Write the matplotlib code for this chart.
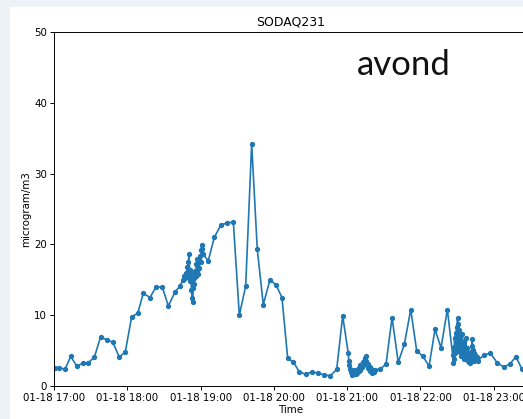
import pandas as pd
import matplotlib
matplotlib.use("Agg")
from matplotlib import pyplot as plt
from matplotlib.patches import Rectangle
import matplotlib.dates as mdates

# minutes after 17:00 and PM value
start = pd.Timestamp("2021-01-18 17:00")

minutes = [0.8, 4.3, 9.0, 13.7, 18.6, 23.5, 28.1, 33.0, 38.2, 43.1, 48.1, 53.5,
           58.4, 63.6, 68.5, 73.1, 78.6, 83.5, 88.7, 93.6, 99.1, 103.1]
values = [2.5, 2.6, 2.35, 4.2, 2.8, 3.2, 3.3, 4.05, 6.95, 6.5, 6.2, 4.05,
          4.85, 9.8, 10.25, 13.1, 12.5, 14.0, 13.95, 11.3, 13.3, 14.1]

# first dense burst (around 18:50)
burst1_min = [105.5, 106.5, 107.5, 108.0, 108.5, 109.0, 109.5, 110.0, 110.5, 111.0,
              111.5, 112.0, 112.5, 113.0, 113.5, 114.0, 114.5, 115.0, 115.5, 116.0,
              116.5, 117.0, 117.5, 118.0, 118.5, 119.0, 119.5, 120.0, 120.5, 121.0,
              121.5, 122.0]
burst1_val = [15.0, 15.6, 15.2, 16.0, 15.4, 16.8, 15.6, 17.5, 18.7, 16.4,
              14.8, 15.8, 13.5, 12.5, 11.9, 13.8, 15.2, 14.4, 16.2, 15.5,
              17.2, 17.9, 16.5, 15.8, 17.8, 16.6, 18.3, 17.5, 19.2, 19.9,
              19.3, 18.6]

mid_min = [126.3, 131.2, 136.5, 141.4, 146.8, 151.7, 156.9, 161.8, 166.4, 171.3,
           176.8, 181.7, 186.6, 191.3, 195.9, 200.8, 206.0, 211.2, 216.4, 221.3,
           226.2, 231.4, 236.3]
mid_val = [17.7, 21.0, 22.7, 23.05, 23.15, 10.0, 14.1, 34.2, 19.3, 11.5,
           15.0, 14.3, 12.5, 3.9, 3.4, 2.0, 1.65, 2.0, 1.8, 1.55,
           1.45, 2.35, 9.9]

# second burst (around 21:00)
burst2_min = [240.9, 241.3, 241.8, 242.3, 242.8, 243.3, 243.8, 244.3, 244.8, 245.3,
              245.8, 246.3, 246.8, 247.3, 247.8, 248.3, 248.8, 249.3, 249.8, 250.3,
              250.8, 251.3, 251.8, 252.3, 252.8, 253.3, 253.8, 254.3, 254.8, 255.3,
              255.8, 256.3, 256.8, 257.3, 257.8, 258.3, 258.8, 259.5, 260.2, 261.0,
              262.0, 262.8]
burst2_val = [4.6, 3.6, 2.9, 2.4, 2.0, 2.3, 1.8, 1.6, 2.1, 1.7,
              2.2, 1.8, 2.0, 1.7, 2.3, 1.9, 2.4, 2.1, 2.6, 2.2,
              2.9, 2.5, 3.1, 2.7, 3.4, 2.9, 3.6, 3.2, 3.9, 4.3,
              3.5, 3.0, 2.6, 3.1, 2.4, 2.7, 2.1, 2.4, 1.9, 2.2,
              2.0, 2.3]

late_min = [266.9, 271.8, 276.7, 281.8, 286.8, 292.0, 296.9, 301.8, 307.0, 311.9,
            316.8, 322.0]
late_val = [2.35, 3.1, 9.65, 3.35, 5.9, 10.8, 4.95, 4.25, 2.8, 8.0,
            5.4, 10.8]

# third burst (around 22:30)
burst3_min = [326.3, 326.7, 327.1, 327.5, 327.9, 328.3, 328.7, 329.1, 329.5, 329.9,
              330.3, 330.7, 331.1, 331.5, 331.9, 332.3, 332.7, 333.1, 333.5, 333.9,
              334.3, 334.7, 335.1, 335.5, 335.9, 336.3, 336.7, 337.1, 337.5, 337.9,
              338.3, 338.7, 339.1, 339.5, 339.9, 340.3, 340.7, 341.1, 341.5, 341.9,
              342.3, 342.7, 343.1, 343.5, 343.9, 344.3, 344.8, 345.5, 346.2, 347.0]
burst3_val = [4.4, 3.2, 5.5, 3.8, 6.8, 4.6, 7.5, 5.2, 8.4, 6.0,
              9.6, 7.2, 8.8, 5.4, 7.9, 4.8, 6.6, 5.0, 4.2, 5.8,
              7.4, 6.2, 4.4, 5.6, 3.8, 4.9, 5.5, 6.8, 4.6, 5.3,
              4.0, 4.7, 3.6, 4.3, 3.4, 4.1, 3.2, 4.8, 3.9, 5.6,
              6.7, 5.1, 4.3, 3.5, 4.6, 3.9, 4.4, 3.8, 4.1, 3.6]

end_min = [352.0, 357.3, 362.7, 368.0, 372.9, 378.1, 383.0, 388.0]
end_val = [4.4, 4.6, 3.3, 2.7, 3.05, 4.15, 2.4, 2.6]

all_min = minutes + burst1_min + mid_min + burst2_min + late_min + burst3_min + end_min
all_val = values + burst1_val + mid_val + burst2_val + late_val + burst3_val + end_val
times = [start + pd.Timedelta(minutes=m) for m in all_min]

W, H = 523, 419
fig = plt.figure(figsize=(W / 100, H / 100), dpi=100, facecolor="#edf1f8")
fig.add_artist(Rectangle((10 / W, 0), 1, (H - 7) / H, transform=fig.transFigure,
                         facecolor="white", edgecolor="none", zorder=0))

ax = fig.add_axes([54 / W, 33 / H, 474 / W, 354 / H])
ax.plot(times, all_val, color="#1f77b4", linewidth=1.2, marker="o", markersize=2.8)

ax.set_ylim(0, 50)
ax.set_xlim(start, start + pd.Timedelta(minutes=388))
ax.xaxis.set_major_locator(mdates.HourLocator())
ax.xaxis.set_major_formatter(mdates.DateFormatter("%m-%d %H:%M"))

for s in ax.spines.values():
    s.set_linewidth(0.7)
ax.tick_params(labelsize=7.4, length=2.6, width=0.7, pad=2.5)
ax.set_title("SODAQ231", fontsize=8.9, pad=4.5)
ax.set_xlabel("Time", fontsize=7.4, labelpad=1.5)
ax.set_ylabel("microgram/m3", fontsize=7.4, labelpad=2)

fig.text(404 / W, 1 - 65 / H, "avond", fontsize=25, family="Lato",
         ha="center", va="center", color="#111111")

fig.savefig("out.png", dpi=100, facecolor=fig.get_facecolor())
